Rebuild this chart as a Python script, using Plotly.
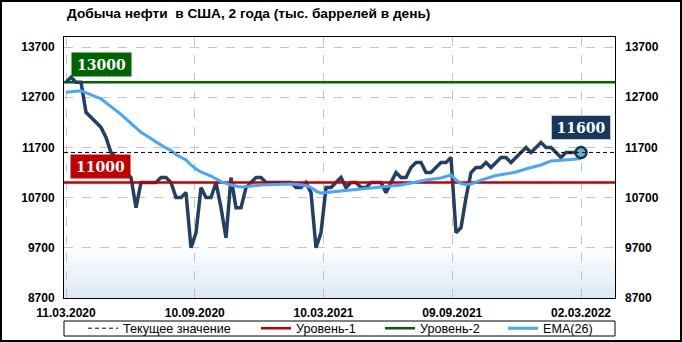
import plotly.graph_objects as go

# ---------------- data ----------------
date_labels = ["11.03.2020", "10.09.2020", "10.03.2021", "09.09.2021", "02.03.2022"]

production = [
    13000, 13100, 13000, 13000, 12400, 12300, 12200, 12100, 11900, 11600,
    11500, 11400, 11200, 11100, 10500, 11000, 11000, 11000, 11000, 11100,
    11100, 11000, 10700, 10700, 10800, 9700, 10000, 10900, 10700, 10700,
    11000, 10500, 9900, 11100, 10500, 10500, 10900, 11000, 11100, 11100,
    11000, 11000, 11000, 11000, 11000, 11000, 10900, 10900, 11000, 10800,
    9700, 10000, 10900, 10900, 11000, 11100, 10900, 11000, 11000, 10900,
    10900, 11000, 11000, 11000, 10800, 11000, 11200, 11100, 11100, 11300,
    11400, 11400, 11200, 11200, 11300, 11400, 11400, 11500, 10000, 10100,
    10700, 11200, 11300, 11300, 11400, 11300, 11400, 11500, 11500, 11400,
    11500, 11600, 11700, 11600, 11700, 11800, 11700, 11700, 11600, 11500,
    11600, 11600, 11600, 11600,
]

ema_idx = [0, 3, 7, 9, 11, 13, 15, 17, 18, 20, 21, 22, 24, 25, 26, 27, 29, 31, 33,
           35, 37, 39, 42, 45, 48, 49, 50, 51, 53, 57, 61, 65, 67, 69, 72, 75, 77,
           78, 79, 80, 81, 83, 86, 89, 90, 93, 95, 97, 99, 101, 103]
ema_vals = [12800, 12830, 12670, 12520, 12360, 12180, 12000, 11880, 11810, 11690,
            11640, 11560, 11450, 11350, 11270, 11210, 11130, 11020, 10950,
            10910, 10930, 10950, 10960, 10970, 10940, 10900, 10830, 10790, 10810,
            10850, 10880, 10920, 10950, 10990, 11050, 11090, 11150,
            11050, 10980, 10960, 10970, 11050, 11140, 11190, 11210, 11300, 11350,
            11430, 11440, 11460, 11480]

level1 = 11000
level2 = 13000
y_ticks = [8700, 9700, 10700, 11700, 12700, 13700]
y_tick_text = [str(v) for v in y_ticks]

# ---------------- geometry ----------------
W, H = 682, 342
ML, MR, MT, MB = 64, 67, 37, 44
PW, PH = W - ML - MR, H - MT - MB

n = len(production)
idx = list(range(n))
last = n - 1
current = production[-1]
tick_pos = [0] + [last * k / 4 for k in range(1, 5)]
x_range = [-0.4, 109.8]
y_range = [8700, 13900]

FONT = "Liberation Sans, Arial, sans-serif"
NAVY = "#233f62"

fig = go.Figure()

fig.add_trace(go.Scatter(x=x_range, y=[level2, level2], mode="lines",
                         line=dict(color="#006400", width=2.5),
                         name="Уровень-2", legend="legend3"))
fig.add_trace(go.Scatter(x=x_range, y=[current, current], mode="lines",
                         line=dict(color="black", width=1, dash="4px,3px"),
                         name="Текущее значение", legend="legend", yaxis="y2"))
fig.add_trace(go.Scatter(x=idx, y=production, mode="lines",
                         line=dict(color=NAVY, width=3.5), showlegend=False))
fig.add_trace(go.Scatter(x=x_range, y=[level1, level1], mode="lines",
                         line=dict(color="#c00000", width=2.5),
                         name="Уровень-1", legend="legend2"))
fig.add_trace(go.Scatter(x=ema_idx, y=ema_vals, mode="lines",
                         line=dict(color="#45a6fa", width=3),
                         name="EMA(26)", legend="legend4"))
fig.add_trace(go.Scatter(x=[idx[-1]], y=[current], mode="markers",
                         marker=dict(size=11, color="#5cb6cf",
                                     line=dict(color="#1c3557", width=2.5)),
                         showlegend=False))

# ---------------- shapes ----------------
shapes = []
steps = 12
for k in range(steps):
    f = (k + 1) / steps
    r = int(255 - (255 - 221) * f)
    g = int(255 - (255 - 233) * f)
    b = int(255 - (255 - 247) * f)
    y_top = y_ticks[1] - k * (y_ticks[1] - y_ticks[0]) / steps
    y_bot = y_ticks[1] - (k + 1) * (y_ticks[1] - y_ticks[0]) / steps
    shapes.append(dict(type="rect", xref="x domain", yref="y", x0=0, x1=1,
                       y0=y_bot, y1=y_top, fillcolor=f"rgb({r},{g},{b})",
                       line=dict(width=0), layer="below"))
# legend frame
shapes.append(dict(type="rect", xref="paper", yref="paper", x0=0, x1=1,
                   y0=-(336 - (MT + PH)) / PH, y1=-(321 - (MT + PH)) / PH,
                   line=dict(color="black", width=1), fillcolor="rgba(0,0,0,0)"))
# outer frame
shapes.append(dict(type="rect", xref="paper", yref="paper",
                   x0=(1 - ML) / PW, x1=1 + (MR - 1) / PW,
                   y0=-(MB - 1) / PH, y1=1 + (MT - 1) / PH,
                   line=dict(color="black", width=2), fillcolor="rgba(0,0,0,0)"))

# ---------------- annotations ----------------
LBL_FONT = "DejaVu Serif, Georgia, serif"
annotations = [
    dict(text="<b>Добыча нефти  в США, 2 года (тыс. баррелей в день)</b>",
         xref="paper", yref="paper", x=(65 - ML) / PW, y=1 + (MT - 14) / PH,
         xanchor="left", yanchor="middle", showarrow=False,
         font=dict(family=FONT, size=13.7, color="black")),
    dict(text="<b>13000</b>", x=0, y=level2, xref="x", yref="y",
         xanchor="left", yanchor="bottom", xshift=5, yshift=5, showarrow=False,
         bgcolor="#006400", width=53, height=17, borderpad=3,
         font=dict(family=LBL_FONT, size=14, color="white")),
    dict(text="<b>11000</b>", x=0, y=level1, xref="x", yref="y",
         xanchor="left", yanchor="bottom", xshift=4, yshift=4, showarrow=False,
         bgcolor="#c00000", width=53, height=17, borderpad=3,
         font=dict(family=LBL_FONT, size=14, color="white")),
    dict(text="<b>%d</b>" % current, x=1, y=current, xref="paper", yref="y",
         xanchor="right", yanchor="bottom", xshift=-4, yshift=12, showarrow=False,
         bgcolor="#17375e", bordercolor="#c8c8c8", borderwidth=1,
         width=52, height=17, borderpad=3,
         font=dict(family=LBL_FONT, size=14, color="white")),
]

def leg(sym_px):
    return dict(x=(sym_px - 7 - ML) / PW, y=-(328.5 - (MT + PH)) / PH,
                xanchor="left", yanchor="middle", orientation="h",
                bgcolor="rgba(0,0,0,0)", borderwidth=0, itemwidth=30,
                font=dict(family=FONT, size=12.6, color="black"))

fig.update_layout(
    width=W, height=H,
    margin=dict(l=ML, r=MR, t=MT, b=MB, pad=0, autoexpand=False),
    paper_bgcolor="white", plot_bgcolor="white",
    shapes=shapes, annotations=annotations,
    legend=leg(90), legend2=leg(263), legend3=leg(387), legend4=leg(510),
    xaxis=dict(range=x_range, tickvals=tick_pos, ticktext=date_labels,
               showgrid=True, gridcolor="#c4c4c4", griddash="dash", gridwidth=1,
               showline=True, linecolor="black", linewidth=1, mirror=True,
               zeroline=False, ticks="", ticklabelstandoff=4,
               tickfont=dict(family=FONT, size=12, color="black", weight="bold")),
    yaxis=dict(range=y_range, tickvals=y_ticks, ticktext=y_tick_text,
               showgrid=True, gridcolor="#c4c4c4", griddash="dash", gridwidth=1,
               showline=True, linecolor="black", linewidth=1, mirror=True,
               zeroline=False, ticks="", ticklabelstandoff=6,
               tickfont=dict(family=FONT, size=12, color="black", weight="bold")),
    yaxis2=dict(range=y_range, tickvals=y_ticks, ticktext=y_tick_text,
                overlaying="y", side="right",
                matches="y", showgrid=False, zeroline=False, ticks="",
                ticklabelstandoff=9,
                tickfont=dict(family=FONT, size=12, color="black", weight="bold")),
)

fig.write_html("out.html")
